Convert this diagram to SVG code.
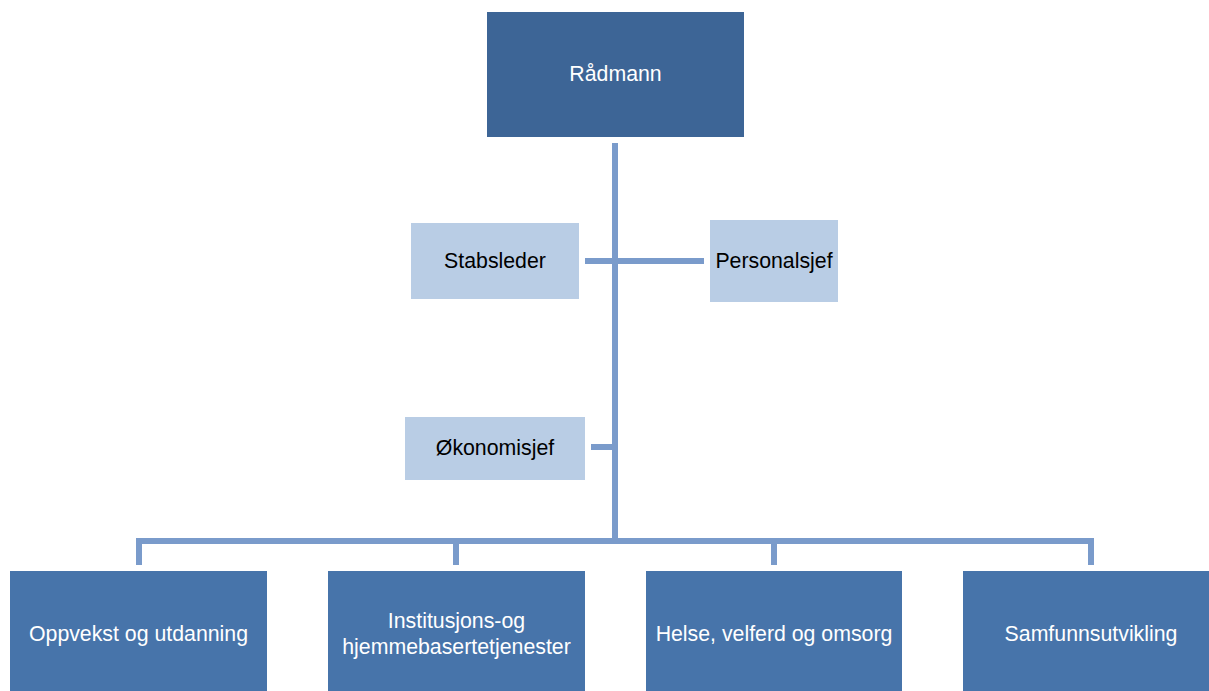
<svg xmlns="http://www.w3.org/2000/svg" width="1209" height="691" viewBox="0 0 1209 691">
<style>
text{font-family:"Liberation Sans",Arial,sans-serif;font-size:21.3px;text-anchor:middle}
.top{fill:#3D6596}
.unit{fill:#4774AA}
.staff{fill:#B9CDE5}
.w{fill:#FFFFFF}
.k{fill:#000000}
.conn{fill:none;stroke:#7A9BCB;stroke-width:6}
</style>
<rect width="1209" height="691" fill="#FFFFFF"/>
<g id="connectors">
<line class="conn" x1="615" y1="143" x2="615" y2="541"/>
<line class="conn" x1="585" y1="261" x2="704" y2="261"/>
<line class="conn" x1="591" y1="447" x2="615" y2="447"/>
<path class="conn" d="M139 565 V541 H1091 V565"/>
<line class="conn" x1="456" y1="541" x2="456" y2="565"/>
<line class="conn" x1="774" y1="541" x2="774" y2="565"/>
</g>
<g id="radmann">
<rect class="top" x="487" y="12" width="257" height="125"/>
<text class="w" x="615.5" y="81">Rådmann</text>
</g>
<g id="stabsleder">
<rect class="staff" x="411" y="223" width="168" height="76"/>
<text class="k" x="495" y="268">Stabsleder</text>
</g>
<g id="personalsjef">
<rect class="staff" x="710" y="220" width="128" height="82"/>
<text class="k" x="774" y="268">Personalsjef</text>
</g>
<g id="okonomisjef">
<rect class="staff" x="405" y="417" width="180" height="63"/>
<text class="k" x="495" y="455">Økonomisjef</text>
</g>
<g id="oppvekst">
<rect class="unit" x="10" y="571" width="257" height="126"/>
<text class="w" x="138.5" y="641">Oppvekst og utdanning</text>
</g>
<g id="institusjon">
<rect class="unit" x="328" y="571" width="257" height="126"/>
<text class="w" x="456.5" y="628">Institusjons-og</text>
<text class="w" x="456.5" y="654">hjemmebasertetjenester</text>
</g>
<g id="helse">
<rect class="unit" x="646" y="571" width="256" height="126"/>
<text class="w" x="774" y="641">Helse, velferd og omsorg</text>
</g>
<g id="samfunn">
<rect class="unit" x="963" y="571" width="256" height="126"/>
<text class="w" x="1091" y="641">Samfunnsutvikling</text>
</g>
</svg>
